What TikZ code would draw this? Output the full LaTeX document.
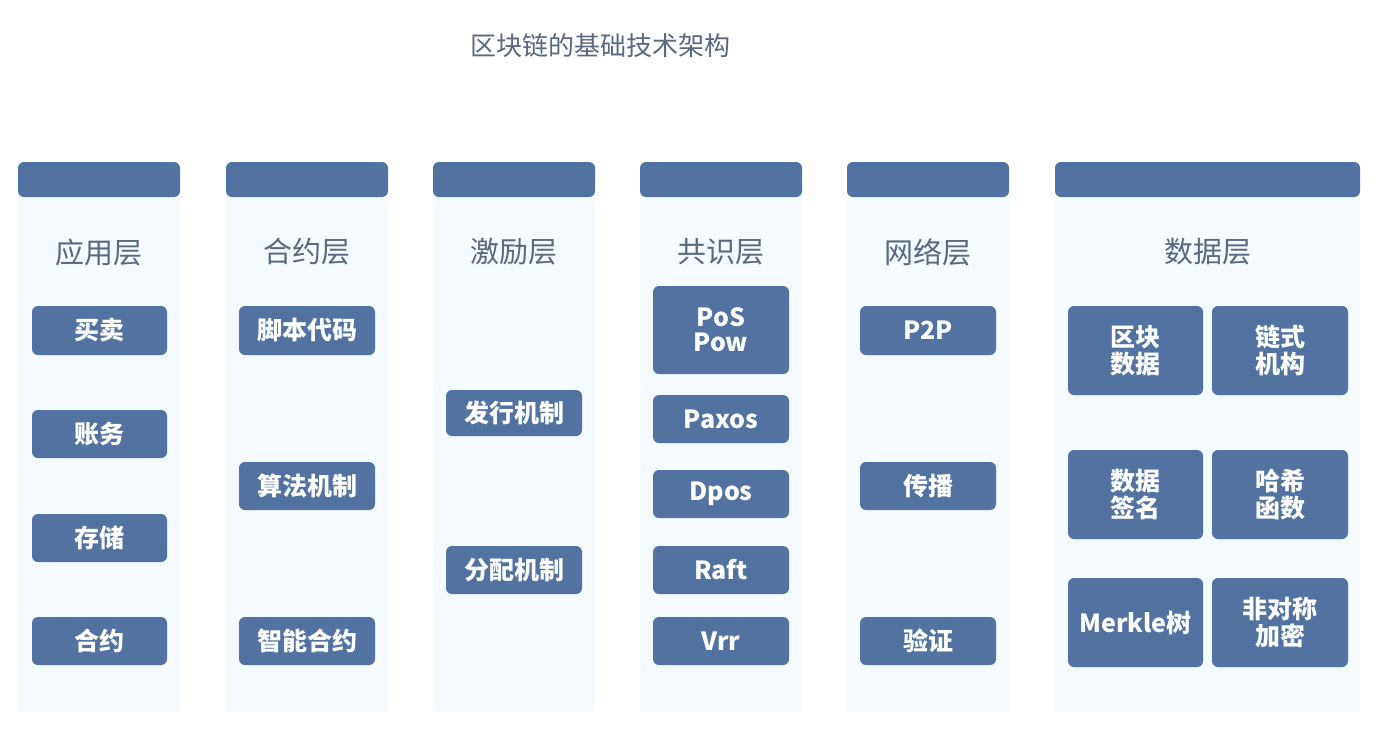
\documentclass[tikz,border=0pt]{standalone}
\usepackage{fontspec}
\setmainfont{Noto Sans CJK SC}
\newfontfamily\cjkb{Noto Sans CJK SC Medium}
\definecolor{hdr}{HTML}{5272A2}
\definecolor{pnl}{HTML}{F4FAFE}
\definecolor{ttl}{HTML}{5A6880}
\tikzset{
 btn/.style={fill=hdr,rounded corners=6pt,text=white,font=\fontsize{25}{29}\selectfont\bfseries,align=center},
 lay/.style={text=ttl,font=\fontsize{29}{32}\selectfont},
}
\newcommand{\Btn}[6]{\node[btn,minimum width={#3-#2},minimum height={#5-#4}] (#1) at ({(#2+#3)/2},{(#4+#5)/2}) {#6};}
\newcommand{\Col}[4]{%
 \fill[pnl] (#2,197) rectangle (#3,712);
 \fill[hdr,rounded corners=6pt] (#2,197) -- (#2,162) -- (#3,162) -- (#3,197) -- cycle;
 \node[lay] (#1) at ({(#2+#3)/2},252) {#4};}
\begin{document}
\begin{tikzpicture}[x=1pt,y=-1pt]
\useasboundingbox[fill=white] (0,0) rectangle (1377,729);
\node[text=ttl,font=\fontsize{26}{30}\selectfont] (title) at (600,46) {区块链的基础技术架构};
\Col{c1}{18}{180}{应用层}
\Col{c2}{226}{388}{合约层}
\Col{c3}{433}{595}{激励层}
\Col{c4}{640}{802}{共识层}
\Col{c5}{847}{1009}{网络层}
\Col{c6}{1055}{1360}{数据层}
\Btn{a1}{32}{167}{306}{355}{买卖}
\Btn{a2}{32}{167}{410}{458}{账务}
\Btn{a3}{32}{167}{514}{562}{存储}
\Btn{a4}{32}{167}{617}{665}{合约}
\Btn{b1}{239}{375}{306}{355}{脚本代码}
\Btn{b2}{239}{375}{462}{510}{算法机制}
\Btn{b3}{239}{375}{617}{665}{智能合约}
\Btn{d1}{446}{582}{390}{436}{发行机制}
\Btn{d2}{446}{582}{546}{594}{分配机制}
\Btn{e1}{653}{789}{286}{374}{PoS\\[-4pt]Pow}
\Btn{e2}{653}{789}{395}{443}{Paxos}
\Btn{e3}{653}{789}{470}{518}{Dpos}
\Btn{e4}{653}{789}{546}{594}{Raft}
\Btn{e5}{653}{789}{617}{665}{Vrr}
\Btn{f1}{860}{996}{306}{355}{P2P}
\Btn{f2}{860}{996}{462}{510}{传播}
\Btn{f3}{860}{996}{617}{665}{验证}
\Btn{g1}{1068}{1203}{306}{395}{区块\\[-2pt]数据}
\Btn{g2}{1212}{1348}{306}{395}{链式\\[-2pt]机构}
\Btn{g3}{1068}{1203}{450}{539}{数据\\[-2pt]签名}
\Btn{g4}{1212}{1348}{450}{539}{哈希\\[-2pt]函数}
\Btn{g5}{1068}{1203}{578}{667}{Merkle树}
\Btn{g6}{1212}{1348}{578}{667}{非对称\\[-2pt]加密}
\end{tikzpicture}
\end{document}
